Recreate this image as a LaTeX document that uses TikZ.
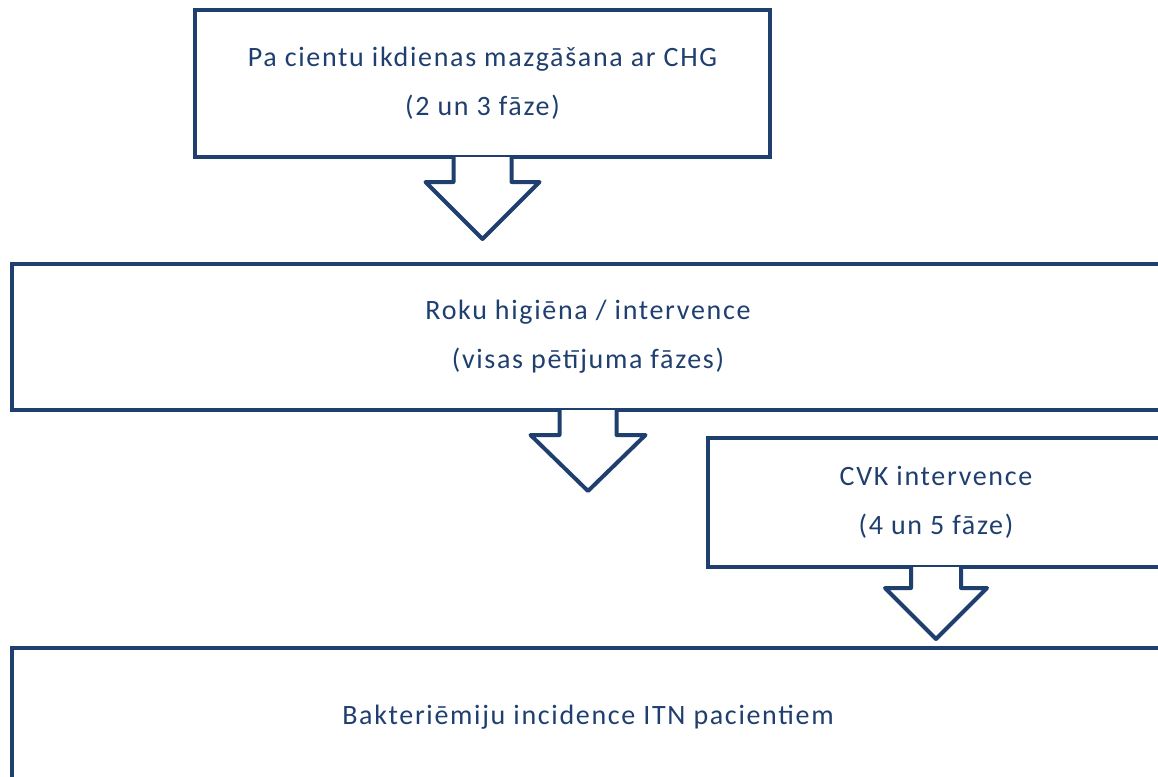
\documentclass[tikz,border=0pt]{standalone}
\usepackage{fontspec}
\setmainfont{Carlito}[LetterSpace=6]
\usepackage{xcolor}
\usepackage{tikz}

\definecolor{tumszils}{HTML}{1F3F6F}

\tikzset{
	kaste/.style={draw=tumszils,line width=4pt,fill=white,align=center,text=tumszils,font=\fontsize{28}{49}\selectfont,inner sep=0pt},
	bulta/.style={draw=tumszils,line width=4pt,fill=white,line join=round}
}

\begin{document}
\begin{tikzpicture}[x=1pt,y=-1pt]
	\path[use as bounding box,clip] (0,0) rectangle (1158,776);
	
	\node[kaste,minimum width=575pt,minimum height=147pt] (mazg) at (482.5,83.5) {Pa cientu ikdienas mazgāšana ar CHG\\(2 un 3 fāze)};
	\node[kaste,minimum width=1152pt,minimum height=146pt] (roku) at (588,337) {Roku higiēna / intervence\\(visas pētījuma fāzes)};
	\node[kaste,minimum width=456pt,minimum height=129pt] (cvk) at (936,502.5) {CVK intervence\\(4 un 5 fāze)};
	\node[kaste,minimum width=1152pt,minimum height=138pt] (bakt) at (588,717) {Bakteriēmiju incidence ITN pacientiem};
	
	\draw[bulta,shift={(mazg.south)}] (-29,-2) -- (-29,23) -- (-57,23) -- (0,80) -- (57,23) -- (29,23) -- (29,-2);
	\draw[bulta,shift={(roku.south)}] (-28.5,-2) -- (-28.5,23) -- (-57.5,23) -- (0,79) -- (57.5,23) -- (28.5,23) -- (28.5,-2);
	\draw[bulta,shift={(cvk.south)}] (-25,-2) -- (-25,19) -- (-51,19) -- (0,70) -- (51,19) -- (25,19) -- (25,-2);
\end{tikzpicture}
\end{document}
